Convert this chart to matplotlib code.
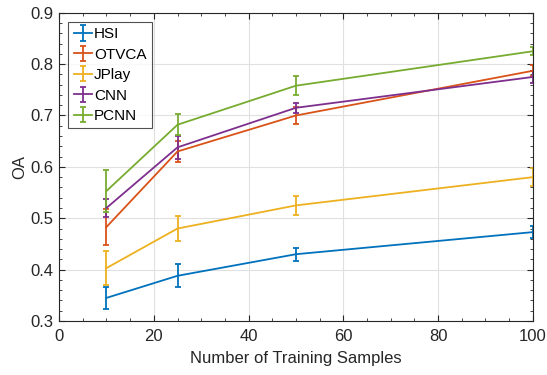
import matplotlib
matplotlib.use("Agg")
import matplotlib.pyplot as plt
from matplotlib.ticker import MultipleLocator

plt.rcParams['font.family'] = ['Liberation Sans', 'DejaVu Sans']

x = [10, 25, 50, 100]
names = ["HSI", "OTVCA", "JPlay", "CNN", "PCNN"]
colors = ["#0072BD", "#D95319", "#EDB120", "#7E2F8E", "#77AC30"]
means = {
    "HSI":   [0.345, 0.388, 0.430, 0.473],
    "OTVCA": [0.483, 0.630, 0.700, 0.787],
    "JPlay": [0.403, 0.480, 0.525, 0.580],
    "CNN":   [0.520, 0.638, 0.715, 0.775],
    "PCNN":  [0.553, 0.682, 0.758, 0.825],
}
errs = {
    "HSI":   [0.021, 0.022, 0.013, 0.011],
    "OTVCA": [0.035, 0.020, 0.017, 0.011],
    "JPlay": [0.033, 0.025, 0.018, 0.018],
    "CNN":   [0.018, 0.022, 0.010, 0.012],
    "PCNN":  [0.040, 0.020, 0.018, 0.008],
}

fig = plt.figure(figsize=(5.47, 3.75), dpi=100)
ax = fig.add_axes([0.108, 0.144, 0.866, 0.822])
for n, c in zip(names, colors):
    ax.errorbar(x, means[n], yerr=errs[n], color=c, lw=1.3, elinewidth=1.3,
                capsize=2.5, capthick=1.3, label=n)

ax.set_xlim(0, 100)
ax.set_ylim(0.3, 0.9)
ax.xaxis.set_major_locator(MultipleLocator(20))
ax.xaxis.set_minor_locator(MultipleLocator(5))
ax.yaxis.set_major_locator(MultipleLocator(0.1))
ax.yaxis.set_minor_locator(MultipleLocator(0.02))
ax.grid(True, which='major', color='#e0e0e0', lw=0.8)
ax.set_axisbelow(True)
ax.tick_params(which='both', direction='in', top=True, right=True, colors='#262626', labelsize=12)
ax.tick_params(axis='x', which='both', pad=6)
ax.tick_params(axis='y', which='both', pad=4.3)
ax.tick_params(which='major', length=4)
ax.tick_params(which='minor', length=2.5)
for s in ax.spines.values():
    s.set_color('#262626')
    s.set_linewidth(0.8)
ax.set_xlabel("Number of Training Samples", fontsize=12, color='#262626', labelpad=5)
ax.set_ylabel("OA", fontsize=12, color='#262626', labelpad=2)
ax.set_yticklabels([f"{v:.1f}" for v in ax.get_yticks()])
leg = ax.legend(loc='upper left', fontsize=11, frameon=True, fancybox=False,
                edgecolor='#262626', handlelength=1.2, handletextpad=0.12,
                borderpad=0.35, labelspacing=0.42, borderaxespad=0.6)
leg.get_frame().set_linewidth(0.8)
fig.savefig("out.png", dpi=100)
